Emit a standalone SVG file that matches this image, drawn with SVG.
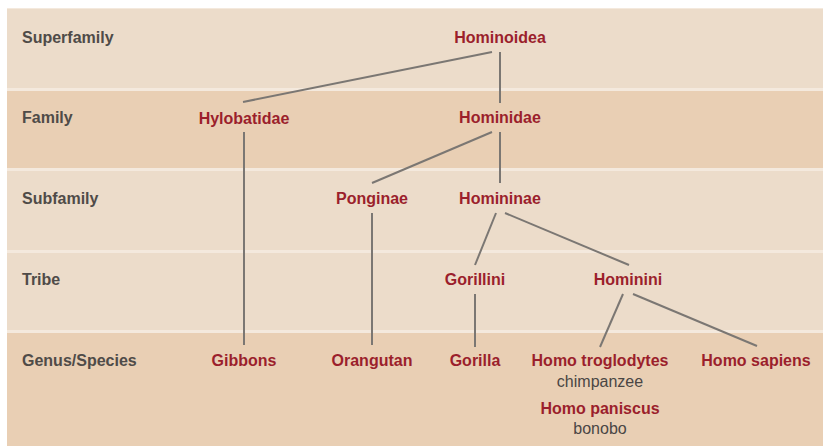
<svg xmlns="http://www.w3.org/2000/svg" width="823" height="446" viewBox="0 0 823 446">
<style>
.light{fill:#ecdcca}
.dark{fill:#e9cfb4}
.rank{font-family:"Liberation Sans",Arial,sans-serif;font-weight:bold;font-size:16px;fill:#4f4b48}
.taxon{font-family:"Liberation Sans",Arial,sans-serif;font-weight:bold;font-size:16px;fill:#9b1f2c;text-anchor:middle}
.common{font-family:"Liberation Sans",Arial,sans-serif;font-size:16px;fill:#4a4644;text-anchor:middle}
.edge{stroke:#7b7773;stroke-width:2;fill:none}
</style>
<rect x="0" y="0" width="823" height="446" fill="#ffffff"/>
<rect x="7" y="8" width="816" height="438" fill="#f4e9dd"/>
<g id="bands">
<rect class="light" x="7" y="9" width="816" height="79"/>
<rect class="dark" x="7" y="91" width="816" height="77"/>
<rect class="light" x="7" y="171" width="816" height="79"/>
<rect class="light" x="7" y="253" width="816" height="77"/>
<rect class="dark" x="7" y="333" width="816" height="113"/>
</g>
<g id="ranks">
<text class="rank" x="22" y="43">Superfamily</text>
<text class="rank" x="22" y="123">Family</text>
<text class="rank" x="22" y="204">Subfamily</text>
<text class="rank" x="22" y="285">Tribe</text>
<text class="rank" x="22" y="366">Genus/Species</text>
</g>
<g id="connectors">
<line class="edge" x1="500" y1="52" x2="500" y2="103"/>
<line class="edge" x1="492" y1="52" x2="243" y2="102"/>
<line class="edge" x1="500" y1="132" x2="500" y2="183"/>
<line class="edge" x1="492" y1="132" x2="372" y2="183"/>
<line class="edge" x1="244" y1="132" x2="244" y2="345"/>
<line class="edge" x1="372" y1="213" x2="372" y2="345"/>
<line class="edge" x1="496" y1="213" x2="475" y2="265"/>
<line class="edge" x1="505" y1="213" x2="629" y2="265"/>
<line class="edge" x1="475" y1="294" x2="475" y2="347"/>
<line class="edge" x1="623" y1="294" x2="600" y2="347"/>
<line class="edge" x1="633" y1="294" x2="757" y2="346"/>
</g>
<g id="hominoidea"><text class="taxon" x="500" y="43">Hominoidea</text></g>
<g id="hylobatidae"><text class="taxon" x="244" y="124">Hylobatidae</text></g>
<g id="hominidae"><text class="taxon" x="500" y="123">Hominidae</text></g>
<g id="ponginae"><text class="taxon" x="372" y="204">Ponginae</text></g>
<g id="homininae"><text class="taxon" x="500" y="204">Homininae</text></g>
<g id="gorillini"><text class="taxon" x="475" y="285">Gorillini</text></g>
<g id="hominini"><text class="taxon" x="628" y="285">Hominini</text></g>
<g id="gibbons"><text class="taxon" x="244" y="366">Gibbons</text></g>
<g id="orangutan"><text class="taxon" x="372" y="366">Orangutan</text></g>
<g id="gorilla"><text class="taxon" x="475" y="366">Gorilla</text></g>
<g id="homo-troglodytes"><text class="taxon" x="600" y="366">Homo troglodytes</text><text class="common" x="600" y="387">chimpanzee</text></g>
<g id="homo-paniscus"><text class="taxon" x="600" y="414">Homo paniscus</text><text class="common" x="600" y="434">bonobo</text></g>
<g id="homo-sapiens"><text class="taxon" x="756" y="366">Homo sapiens</text></g>
</svg>
